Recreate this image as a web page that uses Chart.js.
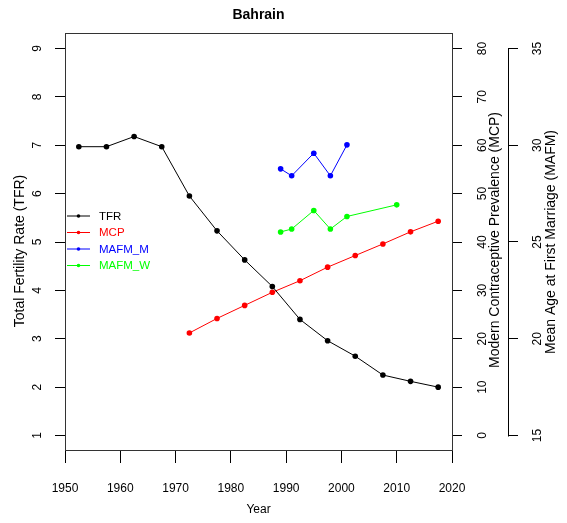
<!DOCTYPE html>
<html><head><meta charset="utf-8">
<script src="https://cdn.jsdelivr.net/npm/chart.js@4.4.0/dist/chart.umd.min.js"></script>
<style>html,body{margin:0;padding:0;background:#fff}#wrap{width:567px;height:523px}</style>
</head><body><div id="wrap"><canvas id="c" width="567" height="523"></canvas></div>
<script>
const chartTitle = 'Bahrain';
const tfrYears = [1952.5, 1957.5, 1962.5, 1967.5, 1972.5, 1977.5, 1982.5, 1987.5, 1992.5, 1997.5, 2002.5, 2007.5, 2012.5, 2017.5];
const tfrValues = [6.97, 6.97, 7.18, 6.97, 5.95, 5.23, 4.63, 4.08, 3.40, 2.96, 2.64, 2.25, 2.12, 2.00];
const mcpYears = [1972.5, 1977.5, 1982.5, 1987.5, 1992.5, 1997.5, 2002.5, 2007.5, 2012.5, 2017.5];
const mcpValues = [21.2, 24.2, 26.9, 29.6, 32.0, 34.8, 37.2, 39.6, 42.1, 44.3];
const mafmMYears = [1989, 1991, 1995, 1998, 2001];
const mafmMValues = [28.78, 28.42, 29.59, 28.42, 30.02];
const mafmWYears = [1989, 1991, 1995, 1998, 2001, 2010];
const mafmWValues = [25.52, 25.67, 26.63, 25.67, 26.32, 26.92];
const xTicks = [1950, 1960, 1970, 1980, 1990, 2000, 2010, 2020];
const tfrTicks = [1, 2, 3, 4, 5, 6, 7, 8, 9];
const mcpTicks = [0, 10, 20, 30, 40, 50, 60, 70, 80];
const mafmTicks = [15, 20, 25, 30, 35];
const legendLabels = ['TFR', 'MCP', 'MAFM_M', 'MAFM_W'];
const seriesColors = ['#000000', '#FF0000', '#0000FF', '#00FF00'];
const tfrTitle = 'Total Fertility Rate (TFR)';
const mcpTitle = 'Modern Contraceptive Prevalence (MCP)';
const mafmTitle = 'Mean Age at First Marriage (MAFM)';
const xTitle = 'Year';

const FONT = "'Liberation Sans', Arial, sans-serif";
const pts = (xs, ys) => xs.map((x, i) => ({x: x, y: ys[i]}));
const ds = (label, data, color, axis) => ({
  label, data, yAxisID: axis, borderColor: color, backgroundColor: color,
  borderWidth: 1, pointRadius: 2.8, pointBorderWidth: 0, pointBackgroundColor: color,
  tension: 0, fill: false, clip: false
});
const setTicks = arr => s => { s.ticks = arr.map(v => ({value: v})); };
const gridOpt = {drawOnChartArea: false, drawTicks: true, tickLength: 10, color: '#000', lineWidth: 1};

function rt(ctx, text, x, y, font, color) {
  ctx.save();
  ctx.translate(x, y);
  ctx.rotate(-Math.PI / 2);
  ctx.font = font;
  ctx.fillStyle = color;
  ctx.textAlign = 'center';
  ctx.textBaseline = 'middle';
  ctx.fillText(text, 0, 0);
  ctx.restore();
}

const decor = {
  id: 'decor',
  afterDraw(chart) {
    const {ctx, chartArea: a, scales} = chart;
    ctx.save();
    ctx.strokeStyle = '#333';
    ctx.lineWidth = 1;
    ctx.strokeRect(Math.round(a.left) + 0.5, Math.round(a.top) + 0.5, Math.round(a.right - a.left), Math.round(a.bottom - a.top) - 1);
    const y2 = scales.y2;
    ctx.strokeStyle = '#000';
    ctx.beginPath();
    ctx.moveTo(Math.round(y2.left) + 0.5, Math.round(y2.getPixelForValue(mafmTicks[0])) + 0.5);
    ctx.lineTo(Math.round(y2.left) + 0.5, Math.round(y2.getPixelForValue(mafmTicks[mafmTicks.length - 1])) + 0.5);
    ctx.stroke();
    ctx.font = 'bold 14px ' + FONT;
    ctx.fillStyle = '#000';
    ctx.textAlign = 'center';
    ctx.textBaseline = 'middle';
    ctx.fillText(chartTitle, (a.left + a.right) / 2, 15);
    const tf = '12px ' + FONT;
    tfrTicks.forEach(v => rt(ctx, String(v), 38, scales.y.getPixelForValue(v), tf, '#000'));
    mcpTicks.forEach(v => rt(ctx, String(v), 482.5, scales.y1.getPixelForValue(v), tf, '#000'));
    mafmTicks.forEach(v => rt(ctx, String(v), 537.5, scales.y2.getPixelForValue(v), tf, '#000'));
    const af = '14px ' + FONT;
    rt(ctx, tfrTitle, 20, 251, af, '#000');
    rt(ctx, mcpTitle, 495, 240, af, '#000');
    rt(ctx, mafmTitle, 551.5, 242, af, '#000');
    const rows = [216, 232.5, 249, 265.5];
    ctx.font = '11.5px ' + FONT;
    ctx.textAlign = 'left';
    legendLabels.forEach((lab, i) => {
      const yy = rows[i];
      ctx.strokeStyle = seriesColors[i];
      ctx.lineWidth = 1;
      ctx.beginPath();
      ctx.moveTo(67, yy);
      ctx.lineTo(90, yy);
      ctx.stroke();
      ctx.fillStyle = seriesColors[i];
      ctx.beginPath();
      ctx.arc(78.5, yy, 1.8, 0, Math.PI * 2);
      ctx.fill();
      ctx.fillText(lab, 99, yy + 0.5);
    });
    ctx.restore();
  }
};

new Chart(document.getElementById('c'), {
  type: 'line',
  data: {
    datasets: [
      ds(legendLabels[0], pts(tfrYears, tfrValues), seriesColors[0], 'y'),
      ds(legendLabels[1], pts(mcpYears, mcpValues), seriesColors[1], 'y1'),
      ds(legendLabels[2], pts(mafmMYears, mafmMValues), seriesColors[2], 'y2'),
      ds(legendLabels[3], pts(mafmWYears, mafmWValues), seriesColors[3], 'y2')
    ]
  },
  options: {
    responsive: false,
    animation: false,
    devicePixelRatio: 1,
    layout: {padding: {top: 33, left: 0, right: 0, bottom: 0}},
    plugins: {legend: {display: false}, title: {display: false}, tooltip: {enabled: false}},
    scales: {
      x: {
        type: 'linear', position: 'bottom', min: 1950, max: 2020,
        afterBuildTicks: setTicks(xTicks),
        afterFit: s => { s.height = 72; },
        grid: Object.assign({}, gridOpt, {tickLength: 12}),
        border: {display: false},
        ticks: {font: {family: FONT, size: 12}, color: '#000', padding: 18, maxRotation: 0, minRotation: 0, autoSkip: false, callback: v => String(v)},
        title: {display: true, text: xTitle, font: {family: FONT, size: 12, lineHeight: 1.2}, color: '#000', padding: {top: 0, bottom: 6}}
      },
      y: {
        type: 'linear', position: 'left', min: 0.68, max: 9.32, weight: 0,
        afterBuildTicks: setTicks(tfrTicks),
        afterFit: s => { s.width = 65; },
        grid: gridOpt, border: {display: false}, ticks: {display: false}
      },
      y1: {
        type: 'linear', position: 'right', min: -3.2, max: 83.2, weight: 0,
        afterBuildTicks: setTicks(mcpTicks),
        afterFit: s => { s.width = 56; },
        grid: gridOpt, border: {display: false}, ticks: {display: false}
      },
      y2: {
        type: 'linear', position: 'right', min: 14.2, max: 35.8, weight: 1,
        afterBuildTicks: setTicks(mafmTicks),
        afterFit: s => { s.width = 59; },
        grid: gridOpt, border: {display: false}, ticks: {display: false}
      }
    }
  },
  plugins: [decor]
});
</script>
</body></html>
